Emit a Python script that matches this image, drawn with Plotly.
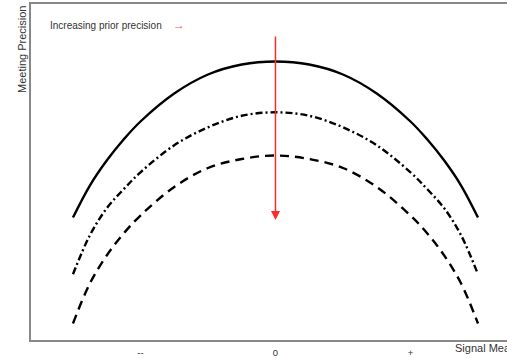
import plotly.graph_objects as go

# Signal measure (x) and meeting precision for three prior-precision levels
signal = [-1.5, -1.375, -1.25, -1.125, -1.0, -0.75, -0.5, -0.25, 0.0,
          0.25, 0.5, 0.75, 1.0, 1.125, 1.25, 1.375, 1.5]
prec_low = [3.646, 4.598, 5.342, 5.967, 6.503, 7.336, 7.902, 8.199, 8.289,
            8.199, 7.902, 7.336, 6.503, 5.967, 5.342, 4.598, 3.646]
prec_mid = [1.955, 3.116, 3.920, 4.485, 4.991, 5.795, 6.330, 6.673, 6.777,
            6.673, 6.330, 5.795, 4.991, 4.485, 3.920, 3.116, 1.955]
prec_high = [0.491, 1.682, 2.515, 3.170, 3.705, 4.554, 5.119, 5.387, 5.491,
             5.387, 5.119, 4.554, 3.705, 3.170, 2.515, 1.682, 0.491]

tick_vals = [-1, 0, 1]
tick_text = ["--", "0", "+"]

arrow_top = 9.08
arrow_bottom = 3.57

FONT = "Liberation Sans, Arial"

fig = go.Figure()

styles = [
    (prec_low, "solid"),
    (prec_mid, "7px,3px,2px,3px"),
    (prec_high, "9px,6px"),
]
for ys, dash in styles:
    fig.add_trace(go.Scatter(
        x=signal, y=ys, mode="lines",
        line=dict(color="black", width=2.4, dash=dash, shape="spline", smoothing=1.0),
        showlegend=False, hoverinfo="skip",
    ))

# red arrow showing the shift as prior precision increases
fig.add_annotation(
    x=0, y=arrow_bottom, ax=0, ay=arrow_top,
    xref="x", yref="y", axref="x", ayref="y",
    text="", showarrow=True,
    arrowhead=2, arrowsize=1.2, arrowwidth=1.5, arrowcolor="#ff2a2a",
)

fig.add_annotation(
    x=(48 - 31) / 476, y=(340 - 25) / 336, xref="paper", yref="paper",
    text="Increasing prior precision", showarrow=False,
    xanchor="left", yanchor="middle",
    font=dict(family=FONT, size=10, color="#333333"),
)
fig.add_annotation(
    x=(171 - 31) / 476, y=(340 - 25) / 336, xref="paper", yref="paper",
    text="→", showarrow=False,
    xanchor="left", yanchor="middle",
    font=dict(family=FONT, size=12, color="#ff5555"),
)

# axis titles
fig.add_annotation(
    x=(22 - 31) / 476, y=(340 - 50) / 336, xref="paper", yref="paper",
    text="Meeting Precision", textangle=-90, showarrow=False,
    xanchor="center", yanchor="middle",
    font=dict(family=FONT, size=11, color="#333333"),
)
fig.add_annotation(
    x=(453 - 31) / 476, y=(340 - 348) / 336, xref="paper", yref="paper",
    text="Signal Measure", showarrow=False,
    xanchor="left", yanchor="middle",
    font=dict(family=FONT, size=11, color="#333333"),
)

fig.update_xaxes(
    range=[-1.811, 1.715], tickvals=tick_vals, ticktext=tick_text,
    showgrid=False, zeroline=False, showline=True, linecolor="#888888",
    linewidth=1.5, mirror=True, ticks="", ticklabelstandoff=3,
    tickfont=dict(family=FONT, size=9.5, color="#333333"),
)
fig.update_yaxes(
    range=[0, 10], showticklabels=False, showgrid=False, zeroline=False,
    showline=True, linecolor="#888888", linewidth=1.5, ticks="",
)

fig.update_layout(
    width=507, height=358,
    margin=dict(l=31, r=0, t=4, b=18),
    plot_bgcolor="white", paper_bgcolor="white",
)

fig.write_html("out.html")
